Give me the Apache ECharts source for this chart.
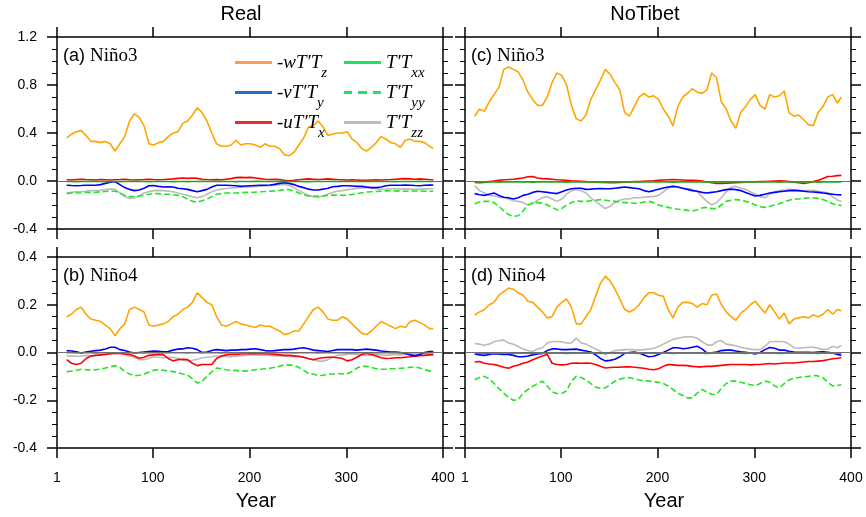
<!DOCTYPE html>
<html>
<head>
<meta charset="utf-8">
<script src="https://cdn.jsdelivr.net/npm/echarts@6.0.0/dist/echarts.min.js"></script>
<style>
  html, body { margin: 0; padding: 0; background: #fff; }
  #chart { width: 866px; height: 517px; }
</style>
</head>
<body>
<div id="chart"></div>
<script>
// centre years of the running means
const years = [
  11, 16, 21, 26, 31, 36, 41, 46, 51, 56,
  61, 66, 71, 76, 81, 86, 91, 96, 101, 106,
  111, 116, 121, 126, 131, 136, 141, 146, 151, 156,
  161, 166, 171, 176, 181, 186, 191, 196, 201, 206,
  211, 216, 221, 226, 231, 236, 241, 246, 251, 256,
  261, 266, 271, 276, 281, 286, 291, 296, 301, 306,
  311, 316, 321, 326, 331, 336, 341, 346, 351, 356,
  361, 366, 371, 376, 381, 386, 390,
]
const xTicks = [1, 100, 200, 300, 400]

// (a) Real, Nino3
const n3RealW = [
  0.36, 0.39, 0.41, 0.42, 0.38, 0.33, 0.33, 0.32, 0.33, 0.31,
  0.25, 0.31, 0.37, 0.50, 0.56, 0.53, 0.46, 0.31, 0.30, 0.32,
  0.33, 0.37, 0.40, 0.41, 0.48, 0.50, 0.55, 0.61, 0.57, 0.50,
  0.40, 0.31, 0.29, 0.29, 0.30, 0.34, 0.30, 0.31, 0.31, 0.30,
  0.28, 0.31, 0.29, 0.29, 0.27, 0.22, 0.21, 0.24, 0.30, 0.36,
  0.45, 0.46, 0.50, 0.45, 0.38, 0.39, 0.40, 0.40, 0.41, 0.35,
  0.32, 0.27, 0.25, 0.28, 0.32, 0.37, 0.35, 0.32, 0.31, 0.28,
  0.34, 0.35, 0.33, 0.33, 0.32, 0.29, 0.27,
]
const n3RealV = [
  -0.035, -0.038, -0.040, -0.038, -0.035, -0.036, -0.035, -0.030, -0.020, -0.010,
  -0.006, -0.030, -0.055, -0.070, -0.080, -0.075, -0.060, -0.040, -0.038, -0.045,
  -0.050, -0.048, -0.050, -0.060, -0.065, -0.070, -0.080, -0.090, -0.080, -0.070,
  -0.050, -0.035, -0.035, -0.036, -0.038, -0.040, -0.045, -0.042, -0.040, -0.038,
  -0.036, -0.035, -0.033, -0.028, -0.020, -0.015, -0.020, -0.030, -0.045, -0.055,
  -0.068, -0.075, -0.075, -0.068, -0.060, -0.048, -0.045, -0.040, -0.040, -0.042,
  -0.045, -0.045, -0.050, -0.055, -0.055, -0.050, -0.040, -0.036, -0.035, -0.035,
  -0.033, -0.035, -0.038, -0.040, -0.036, -0.034, -0.033,
]
const n3RealU = [
  0.010, 0.008, 0.012, 0.015, 0.012, 0.010, 0.008, 0.012, 0.010, 0.008,
  0.010, 0.012, 0.015, 0.010, 0.008, 0.010, 0.012, 0.015, 0.012, 0.010,
  0.012, 0.015, 0.018, 0.022, 0.025, 0.022, 0.025, 0.022, 0.015, 0.012,
  0.010, 0.012, 0.010, 0.015, 0.020, 0.028, 0.030, 0.028, 0.030, 0.025,
  0.020, 0.015, 0.012, 0.015, 0.012, 0.005, 0.002, 0.005, 0.010, 0.015,
  0.018, 0.015, 0.012, 0.015, 0.018, 0.015, 0.012, 0.010, 0.008, 0.010,
  0.008, 0.005, 0.005, 0.008, 0.010, 0.008, 0.010, 0.012, 0.015, 0.018,
  0.020, 0.018, 0.015, 0.018, 0.015, 0.012, 0.010,
]
const n3RealXX = [
  -0.004, -0.004, -0.005, -0.004, -0.004, -0.003, -0.004, -0.004, -0.005, -0.004,
  -0.004, -0.005, -0.004, -0.004, -0.003, -0.004, -0.004, -0.005, -0.004, -0.004,
  -0.004, -0.004, -0.005, -0.004, -0.004, -0.005, -0.004, -0.004, -0.003, -0.004,
  -0.004, -0.003, -0.004, -0.004, -0.004, -0.005, -0.004, -0.004, -0.004, -0.003,
  -0.003, -0.004, -0.004, -0.004, -0.003, -0.003, -0.004, -0.004, -0.004, -0.005,
  -0.005, -0.004, -0.004, -0.004, -0.004, -0.003, -0.004, -0.004, -0.004, -0.004,
  -0.004, -0.004, -0.003, -0.004, -0.004, -0.004, -0.004, -0.004, -0.005, -0.004,
  -0.004, -0.004, -0.004, -0.003, -0.004, -0.004, -0.004,
]
const n3RealYY = [
  -0.105, -0.100, -0.100, -0.098, -0.095, -0.097, -0.095, -0.090, -0.088, -0.085,
  -0.085, -0.100, -0.120, -0.130, -0.128, -0.125, -0.120, -0.110, -0.105, -0.105,
  -0.110, -0.110, -0.115, -0.120, -0.130, -0.150, -0.170, -0.175, -0.165, -0.150,
  -0.130, -0.110, -0.105, -0.100, -0.100, -0.100, -0.098, -0.095, -0.095, -0.093,
  -0.090, -0.088, -0.085, -0.082, -0.078, -0.072, -0.072, -0.085, -0.100, -0.115,
  -0.125, -0.127, -0.125, -0.125, -0.120, -0.118, -0.118, -0.120, -0.115, -0.112,
  -0.105, -0.098, -0.092, -0.090, -0.088, -0.085, -0.082, -0.080, -0.082, -0.085,
  -0.085, -0.085, -0.083, -0.082, -0.085, -0.086, -0.085,
]
const n3RealZZ = [
  -0.100, -0.095, -0.090, -0.088, -0.085, -0.080, -0.080, -0.078, -0.072, -0.068,
  -0.070, -0.100, -0.130, -0.145, -0.140, -0.125, -0.100, -0.090, -0.080, -0.078,
  -0.080, -0.085, -0.090, -0.100, -0.110, -0.120, -0.130, -0.140, -0.130, -0.110,
  -0.090, -0.075, -0.068, -0.062, -0.058, -0.055, -0.050, -0.050, -0.048, -0.046,
  -0.045, -0.042, -0.040, -0.035, -0.030, -0.028, -0.035, -0.055, -0.080, -0.100,
  -0.120, -0.130, -0.135, -0.125, -0.110, -0.095, -0.085, -0.080, -0.072, -0.068,
  -0.062, -0.058, -0.055, -0.060, -0.065, -0.070, -0.068, -0.065, -0.065, -0.068,
  -0.066, -0.068, -0.070, -0.068, -0.066, -0.065, -0.064,
]

// (c) NoTibet, Nino3
const n3NoTibW = [
  0.54, 0.60, 0.58, 0.66, 0.72, 0.78, 0.93, 0.95, 0.93, 0.91,
  0.84, 0.74, 0.68, 0.63, 0.63, 0.70, 0.82, 0.90, 0.88, 0.80,
  0.63, 0.52, 0.50, 0.55, 0.68, 0.76, 0.84, 0.93, 0.89, 0.82,
  0.76, 0.57, 0.54, 0.62, 0.70, 0.73, 0.70, 0.71, 0.68, 0.60,
  0.54, 0.46, 0.62, 0.70, 0.73, 0.77, 0.74, 0.73, 0.76, 0.90,
  0.86, 0.66, 0.60, 0.50, 0.44, 0.57, 0.62, 0.68, 0.72, 0.63,
  0.60, 0.72, 0.70, 0.71, 0.75, 0.57, 0.54, 0.55, 0.51, 0.47,
  0.46, 0.57, 0.62, 0.70, 0.72, 0.65, 0.70,
]
const n3NoTibV = [
  -0.105, -0.115, -0.120, -0.110, -0.100, -0.120, -0.135, -0.140, -0.150, -0.140,
  -0.120, -0.110, -0.095, -0.085, -0.090, -0.095, -0.100, -0.105, -0.090, -0.075,
  -0.065, -0.060, -0.060, -0.070, -0.068, -0.065, -0.062, -0.065, -0.065, -0.060,
  -0.055, -0.050, -0.055, -0.060, -0.065, -0.080, -0.090, -0.080, -0.068, -0.058,
  -0.050, -0.045, -0.050, -0.060, -0.070, -0.080, -0.085, -0.095, -0.100, -0.095,
  -0.090, -0.080, -0.072, -0.068, -0.072, -0.080, -0.095, -0.110, -0.125, -0.120,
  -0.110, -0.100, -0.095, -0.090, -0.085, -0.080, -0.078, -0.080, -0.085, -0.090,
  -0.092, -0.095, -0.100, -0.105, -0.110, -0.115, -0.116,
]
const n3NoTibU = [
  -0.012, -0.015, -0.012, -0.005, 0.000, 0.005, 0.010, 0.012, 0.015, 0.020,
  0.025, 0.035, 0.038, 0.025, 0.020, 0.018, 0.015, 0.010, 0.008, 0.005,
  0.002, 0.000, -0.002, -0.005, -0.008, -0.010, -0.012, -0.012, -0.015, -0.015,
  -0.012, -0.010, -0.008, -0.005, -0.004, -0.002, 0.000, 0.002, 0.005, 0.008,
  0.010, 0.012, 0.010, 0.008, 0.006, 0.005, 0.004, 0.000, -0.008, -0.015,
  -0.020, -0.020, -0.018, -0.016, -0.015, -0.012, -0.010, -0.008, -0.006, -0.005,
  -0.004, -0.002, 0.000, 0.002, 0.000, -0.005, -0.010, -0.015, -0.020, -0.015,
  -0.005, 0.005, 0.020, 0.038, 0.040, 0.045, 0.047,
]
const n3NoTibXX = [
  -0.008, -0.008, -0.007, -0.008, -0.008, -0.009, -0.008, -0.008, -0.007, -0.008,
  -0.008, -0.008, -0.009, -0.008, -0.008, -0.007, -0.008, -0.008, -0.008, -0.009,
  -0.008, -0.008, -0.007, -0.008, -0.008, -0.008, -0.009, -0.008, -0.008, -0.008,
  -0.007, -0.008, -0.008, -0.008, -0.009, -0.008, -0.008, -0.007, -0.008, -0.008,
  -0.008, -0.009, -0.008, -0.008, -0.008, -0.007, -0.008, -0.008, -0.009, -0.008,
  -0.008, -0.008, -0.007, -0.008, -0.008, -0.008, -0.009, -0.008, -0.008, -0.008,
  -0.007, -0.008, -0.008, -0.009, -0.008, -0.008, -0.008, -0.007, -0.008, -0.008,
  -0.008, -0.009, -0.008, -0.008, -0.007, -0.008, -0.008,
]
const n3NoTibYY = [
  -0.190, -0.175, -0.170, -0.170, -0.180, -0.210, -0.250, -0.280, -0.295, -0.290,
  -0.250, -0.200, -0.180, -0.180, -0.185, -0.200, -0.220, -0.240, -0.230, -0.200,
  -0.180, -0.165, -0.170, -0.170, -0.165, -0.160, -0.155, -0.160, -0.165, -0.170,
  -0.175, -0.180, -0.180, -0.185, -0.185, -0.175, -0.170, -0.180, -0.200, -0.210,
  -0.220, -0.230, -0.235, -0.240, -0.245, -0.250, -0.240, -0.225, -0.220, -0.230,
  -0.230, -0.200, -0.170, -0.160, -0.155, -0.160, -0.170, -0.180, -0.200, -0.215,
  -0.220, -0.210, -0.200, -0.190, -0.175, -0.160, -0.150, -0.150, -0.145, -0.140,
  -0.140, -0.145, -0.155, -0.170, -0.190, -0.200, -0.205,
]
const n3NoTibZZ = [
  -0.040, -0.080, -0.100, -0.120, -0.125, -0.135, -0.140, -0.150, -0.165, -0.170,
  -0.180, -0.200, -0.190, -0.160, -0.140, -0.130, -0.150, -0.170, -0.150, -0.110,
  -0.080, -0.070, -0.080, -0.100, -0.140, -0.170, -0.200, -0.230, -0.210, -0.180,
  -0.160, -0.150, -0.150, -0.140, -0.140, -0.135, -0.130, -0.130, -0.120, -0.090,
  -0.060, -0.045, -0.050, -0.060, -0.065, -0.070, -0.090, -0.130, -0.170, -0.200,
  -0.180, -0.140, -0.090, -0.050, -0.045, -0.060, -0.070, -0.090, -0.110, -0.130,
  -0.140, -0.110, -0.090, -0.080, -0.075, -0.070, -0.075, -0.080, -0.080, -0.078,
  -0.078, -0.085, -0.090, -0.100, -0.130, -0.160, -0.170,
]

// (b) Real, Nino4
const n4RealW = [
  0.150, 0.160, 0.180, 0.190, 0.160, 0.140, 0.135, 0.130, 0.115, 0.100,
  0.070, 0.100, 0.120, 0.180, 0.190, 0.180, 0.170, 0.115, 0.110, 0.115,
  0.120, 0.130, 0.150, 0.160, 0.180, 0.190, 0.210, 0.250, 0.230, 0.210,
  0.200, 0.150, 0.115, 0.110, 0.120, 0.130, 0.120, 0.115, 0.110, 0.105,
  0.115, 0.110, 0.110, 0.100, 0.090, 0.075, 0.080, 0.090, 0.090, 0.120,
  0.150, 0.180, 0.190, 0.170, 0.140, 0.135, 0.135, 0.150, 0.140, 0.120,
  0.100, 0.080, 0.075, 0.090, 0.110, 0.130, 0.120, 0.110, 0.100, 0.110,
  0.105, 0.130, 0.135, 0.125, 0.115, 0.100, 0.100,
]
const n4RealV = [
  0.008, 0.006, 0.003, -0.002, 0.002, 0.005, 0.008, 0.010, 0.015, 0.022,
  0.022, 0.012, 0.008, 0.002, -0.002, 0.000, 0.002, 0.004, 0.006, 0.005,
  0.003, 0.004, 0.010, 0.014, 0.015, 0.020, 0.018, 0.012, 0.000, 0.002,
  0.008, 0.012, 0.010, 0.008, 0.010, 0.010, 0.012, 0.012, 0.014, 0.016,
  0.012, 0.008, 0.006, 0.008, 0.010, 0.012, 0.012, 0.014, 0.018, 0.020,
  0.016, 0.010, 0.008, 0.006, 0.004, 0.008, 0.012, 0.012, 0.012, 0.012,
  0.010, 0.012, 0.014, 0.012, 0.010, 0.006, 0.004, 0.002, 0.002, 0.000,
  -0.004, -0.010, -0.014, -0.008, 0.000, 0.004, 0.004,
]
const n4RealU = [
  -0.030, -0.045, -0.050, -0.045, -0.025, -0.015, -0.012, -0.010, -0.008, -0.005,
  -0.003, -0.004, -0.006, -0.008, -0.015, -0.024, -0.020, -0.012, -0.010, -0.008,
  -0.010, -0.025, -0.035, -0.030, -0.028, -0.030, -0.045, -0.055, -0.050, -0.050,
  -0.050, -0.025, -0.015, -0.010, -0.008, -0.008, -0.006, -0.005, -0.005, -0.005,
  -0.004, -0.005, -0.006, -0.008, -0.010, -0.012, -0.012, -0.014, -0.016, -0.020,
  -0.026, -0.030, -0.025, -0.022, -0.020, -0.020, -0.022, -0.025, -0.035, -0.030,
  -0.020, -0.008, -0.003, -0.008, -0.015, -0.022, -0.025, -0.024, -0.022, -0.022,
  -0.020, -0.018, -0.015, -0.013, -0.012, -0.010, -0.010,
]
const n4RealXX = [
  -0.001, -0.001, -0.002, -0.001, -0.001, -0.001, -0.002, -0.001, -0.001, -0.001,
  -0.001, -0.002, -0.001, -0.001, -0.001, -0.001, -0.002, -0.001, -0.001, -0.001,
  -0.002, -0.001, -0.001, -0.001, -0.001, -0.002, -0.001, -0.001, -0.001, -0.001,
  -0.001, -0.001, -0.002, -0.001, -0.001, -0.001, -0.001, -0.002, -0.001, -0.001,
  -0.001, -0.002, -0.001, -0.001, -0.001, -0.001, -0.001, -0.002, -0.001, -0.001,
  -0.001, -0.001, -0.002, -0.001, -0.001, -0.001, -0.001, -0.001, -0.002, -0.001,
  -0.001, -0.001, -0.001, -0.002, -0.001, -0.001, -0.001, -0.001, -0.001, -0.002,
  -0.001, -0.001, -0.001, -0.001, -0.002, -0.001, -0.001,
]
const n4RealYY = [
  -0.080, -0.078, -0.075, -0.070, -0.072, -0.074, -0.072, -0.070, -0.065, -0.060,
  -0.055, -0.062, -0.080, -0.090, -0.097, -0.095, -0.090, -0.082, -0.074, -0.072,
  -0.074, -0.078, -0.080, -0.085, -0.090, -0.095, -0.110, -0.128, -0.120, -0.100,
  -0.080, -0.065, -0.068, -0.072, -0.075, -0.075, -0.078, -0.078, -0.075, -0.072,
  -0.070, -0.068, -0.066, -0.062, -0.058, -0.052, -0.052, -0.055, -0.062, -0.075,
  -0.088, -0.090, -0.097, -0.095, -0.090, -0.090, -0.088, -0.090, -0.089, -0.080,
  -0.065, -0.058, -0.058, -0.062, -0.068, -0.070, -0.070, -0.068, -0.068, -0.066,
  -0.065, -0.062, -0.060, -0.065, -0.072, -0.078, -0.075,
]
const n4RealZZ = [
  -0.014, -0.015, -0.016, -0.015, -0.012, -0.014, -0.012, -0.010, -0.008, -0.006,
  -0.004, -0.003, -0.008, -0.015, -0.020, -0.030, -0.030, -0.025, -0.018, -0.020,
  -0.022, -0.020, -0.020, -0.025, -0.032, -0.037, -0.033, -0.028, -0.022, -0.020,
  -0.018, -0.015, -0.016, -0.018, -0.018, -0.016, -0.014, -0.012, -0.010, -0.010,
  -0.012, -0.010, -0.012, -0.014, -0.014, -0.016, -0.018, -0.018, -0.018, -0.020,
  -0.025, -0.030, -0.035, -0.037, -0.030, -0.020, -0.012, -0.010, -0.008, -0.006,
  -0.008, -0.010, -0.012, -0.010, -0.008, -0.010, -0.012, -0.010, -0.008, -0.010,
  -0.008, -0.006, -0.010, -0.008, -0.006, -0.006, -0.006,
]

// (d) NoTibet, Nino4
const n4NoTibW = [
  0.157, 0.170, 0.180, 0.200, 0.210, 0.240, 0.255, 0.270, 0.265, 0.250,
  0.240, 0.215, 0.210, 0.190, 0.170, 0.145, 0.150, 0.190, 0.210, 0.225,
  0.190, 0.120, 0.120, 0.150, 0.180, 0.235, 0.290, 0.320, 0.300, 0.265,
  0.225, 0.180, 0.170, 0.180, 0.200, 0.230, 0.250, 0.250, 0.240, 0.235,
  0.180, 0.145, 0.190, 0.210, 0.210, 0.205, 0.190, 0.205, 0.200, 0.240,
  0.245, 0.200, 0.170, 0.150, 0.135, 0.165, 0.180, 0.200, 0.215, 0.190,
  0.165, 0.200, 0.170, 0.140, 0.165, 0.120, 0.140, 0.145, 0.150, 0.145,
  0.157, 0.150, 0.160, 0.180, 0.160, 0.180, 0.175,
]
const n4NoTibV = [
  -0.006, -0.010, -0.012, -0.008, -0.005, -0.007, -0.008, -0.008, -0.012, -0.018,
  -0.018, -0.015, -0.010, -0.006, -0.004, 0.008, 0.015, 0.015, 0.012, 0.012,
  0.013, 0.014, 0.010, 0.006, 0.002, -0.010, -0.025, -0.035, -0.033, -0.028,
  -0.018, -0.004, 0.000, 0.002, -0.002, -0.010, -0.018, -0.016, -0.008, 0.000,
  0.010, 0.020, 0.020, 0.016, 0.018, 0.022, 0.026, 0.015, -0.002, -0.001,
  0.002, 0.008, 0.010, 0.010, 0.006, 0.003, 0.001, -0.002, -0.006, 0.000,
  0.012, 0.021, 0.018, 0.010, 0.010, 0.005, 0.002, 0.001, 0.001, 0.001,
  0.000, 0.002, 0.003, 0.001, -0.002, -0.008, -0.012,
]
const n4NoTibU = [
  -0.040, -0.038, -0.045, -0.048, -0.050, -0.055, -0.062, -0.066, -0.058, -0.052,
  -0.045, -0.040, -0.030, -0.022, -0.015, -0.008, -0.045, -0.050, -0.052, -0.050,
  -0.045, -0.044, -0.045, -0.044, -0.045, -0.050, -0.058, -0.065, -0.063, -0.062,
  -0.062, -0.060, -0.060, -0.062, -0.064, -0.066, -0.070, -0.072, -0.068, -0.058,
  -0.050, -0.052, -0.054, -0.054, -0.055, -0.058, -0.060, -0.060, -0.058, -0.058,
  -0.056, -0.054, -0.052, -0.050, -0.050, -0.050, -0.050, -0.052, -0.050, -0.050,
  -0.048, -0.046, -0.048, -0.046, -0.044, -0.044, -0.044, -0.042, -0.040, -0.038,
  -0.038, -0.036, -0.034, -0.030, -0.026, -0.024, -0.022,
]
const n4NoTibXX = [
  -0.003, -0.003, -0.002, -0.003, -0.003, -0.004, -0.003, -0.003, -0.002, -0.003,
  -0.003, -0.003, -0.004, -0.003, -0.003, -0.002, -0.003, -0.003, -0.003, -0.004,
  -0.003, -0.003, -0.002, -0.003, -0.003, -0.003, -0.004, -0.003, -0.003, -0.003,
  -0.002, -0.003, -0.003, -0.003, -0.004, -0.003, -0.003, -0.002, -0.003, -0.003,
  -0.003, -0.004, -0.003, -0.003, -0.003, -0.002, -0.003, -0.003, -0.004, -0.003,
  -0.003, -0.003, -0.002, -0.003, -0.003, -0.003, -0.004, -0.003, -0.003, -0.003,
  -0.002, -0.003, -0.003, -0.004, -0.003, -0.003, -0.003, -0.002, -0.003, -0.003,
  -0.003, -0.004, -0.003, -0.003, -0.002, -0.003, -0.003,
]
const n4NoTibYY = [
  -0.114, -0.105, -0.100, -0.110, -0.130, -0.150, -0.170, -0.188, -0.200, -0.198,
  -0.170, -0.155, -0.142, -0.130, -0.120, -0.140, -0.165, -0.172, -0.172, -0.160,
  -0.120, -0.100, -0.105, -0.115, -0.130, -0.145, -0.150, -0.148, -0.135, -0.120,
  -0.112, -0.107, -0.105, -0.110, -0.115, -0.118, -0.120, -0.122, -0.125, -0.130,
  -0.140, -0.155, -0.170, -0.180, -0.190, -0.190, -0.170, -0.155, -0.165, -0.175,
  -0.176, -0.150, -0.130, -0.120, -0.120, -0.125, -0.130, -0.135, -0.140, -0.130,
  -0.120, -0.125, -0.140, -0.148, -0.130, -0.115, -0.108, -0.105, -0.102, -0.100,
  -0.096, -0.098, -0.105, -0.125, -0.140, -0.138, -0.135,
]
const n4NoTibZZ = [
  0.038, 0.035, 0.030, 0.035, 0.045, 0.050, 0.052, 0.040, 0.035, 0.025,
  0.015, 0.008, 0.004, 0.015, 0.020, 0.040, 0.046, 0.046, 0.045, 0.040,
  0.040, 0.060, 0.040, 0.035, 0.025, 0.015, 0.005, -0.008, 0.000, 0.008,
  0.010, 0.012, 0.012, 0.012, 0.010, 0.012, 0.015, 0.018, 0.025, 0.035,
  0.045, 0.055, 0.060, 0.064, 0.066, 0.066, 0.060, 0.045, 0.033, 0.030,
  0.045, 0.050, 0.035, 0.032, 0.028, 0.022, 0.018, 0.014, 0.012, 0.012,
  0.025, 0.045, 0.046, 0.046, 0.045, 0.035, 0.020, 0.018, 0.020, 0.022,
  0.022, 0.018, 0.012, 0.015, 0.025, 0.020, 0.030,
]

const lineColor = { w: '#ffa500', v: '#0000ff', u: '#ff0000', xx: '#1fae1f', yy: '#22e622', zz: '#bbbbbb' }
const legendColor = { w: '#f6a04a', v: '#2a6fbf', u: '#f2282d', xx: '#22e060', yy: '#22e060', zz: '#bdbdbd' }
const seriesName = { w: '-wT′Tz', v: '-vT′Ty', u: '-uT′Tx', xx: 'T′Txx', yy: 'T′Tyy', zz: 'T′Tzz' }
const richName = {
  '-wT′Tz': ['-wT′T', 'z'], '-vT′Ty': ['-vT′T', 'y'], '-uT′Tx': ['-uT′T', 'x'],
  'T′Txx': ['T′T', 'xx'], 'T′Tyy': ['T′T', 'yy'], 'T′Tzz': ['T′T', 'zz'],
}
// legend samples: a plain bar, or three dashes for T'Tyy
const solidIcon = 'path://M0,0h37v3h-37z'
const dashIcon = 'path://M0,0h8v3h-8z M14,0h9v3h-9z M29,0h8v3h-8z'

const panels = [
  { tag: '(a) ', region: 'Niño3', grid: { left: 57, top: 37, width: 386, height: 192 },
    y: [-0.4, 1.2, 0.4], yLabels: true, xLabels: false,
    lines: { zz: n3RealZZ, yy: n3RealYY, u: n3RealU, v: n3RealV, w: n3RealW, xx: n3RealXX } },
  { tag: '(c) ', region: 'Niño3', grid: { left: 465, top: 37, width: 386, height: 192 },
    y: [-0.4, 1.2, 0.4], yLabels: false, xLabels: false,
    lines: { zz: n3NoTibZZ, yy: n3NoTibYY, u: n3NoTibU, v: n3NoTibV, w: n3NoTibW, xx: n3NoTibXX } },
  { tag: '(b) ', region: 'Niño4', grid: { left: 57, top: 257, width: 386, height: 191 },
    y: [-0.4, 0.4, 0.2], yLabels: true, xLabels: true,
    lines: { zz: n4RealZZ, yy: n4RealYY, u: n4RealU, v: n4RealV, w: n4RealW, xx: n4RealXX } },
  { tag: '(d) ', region: 'Niño4', grid: { left: 465, top: 257, width: 386, height: 191 },
    y: [-0.4, 0.4, 0.2], yLabels: false, xLabels: true,
    lines: { zz: n4NoTibZZ, yy: n4NoTibYY, u: n4NoTibU, v: n4NoTibV, w: n4NoTibW, xx: n4NoTibXX } },
]

const sans = '"Liberation Sans", Arial, sans-serif'
const serif = '"Liberation Serif", "Times New Roman", serif'
const frame = { color: '#000', width: 1.5 }

const xAxes = []
const yAxes = []
const series = []

panels.forEach((p, i) => {
  const xBase = {
    type: 'value', gridIndex: i, min: 1, max: 400,
    axisLine: { show: true, onZero: false, lineStyle: frame },
    axisTick: { show: true, inside: false, length: 10, lineStyle: frame, customValues: xTicks },
    splitLine: { show: false },
  }
  xAxes.push({
    ...xBase, position: 'bottom',
    axisLabel: {
      show: p.xLabels, customValues: xTicks, color: '#000', fontFamily: sans, fontSize: 14, margin: 23,
    },
  })
  xAxes.push({ ...xBase, position: 'top', axisLabel: { show: false } })

  const yBase = {
    type: 'value', gridIndex: i, min: p.y[0], max: p.y[1], interval: p.y[2],
    axisLine: { show: true, onZero: false, lineStyle: frame },
    axisTick: { show: true, inside: false, length: 10, lineStyle: frame },
    minorTick: { show: true, splitNumber: 4, length: 5, lineStyle: { color: '#000', width: 1 } },
    splitLine: { show: false },
    minorSplitLine: { show: false },
  }
  yAxes.push({
    ...yBase, position: 'left',
    axisLabel: {
      show: p.yLabels, color: '#000', fontFamily: sans, fontSize: 14, margin: 20,
      formatter: (v) => (Math.abs(v) < 1e-9 ? 0 : v).toFixed(1),
    },
  })
  yAxes.push({ ...yBase, position: 'right', axisLabel: { show: false } })

  Object.keys(p.lines).forEach((key, k) => {
    const vals = p.lines[key]
    const s = {
      type: 'line',
      name: seriesName[key],
      xAxisIndex: 2 * i,
      yAxisIndex: 2 * i,
      data: years.map((yr, j) => [yr, vals[j]]),
      symbol: 'none',
      silent: true,
      lineStyle: { color: lineColor[key], width: 1.6, type: key === 'yy' ? [6, 3] : 'solid' },
      itemStyle: { color: lineColor[key] },
    }
    if (k === 0) {
      s.markLine = {
        silent: true, symbol: 'none', label: { show: false },
        lineStyle: { color: '#6e6e6e', width: 1.2, type: 'solid' },
        data: [{ yAxis: 0 }],
      }
    }
    series.push(s)
  })
})

// subscript pushed down with top padding (text sits at box centre + pad/2)
const legendRich = {
  m: { fontFamily: serif, fontStyle: 'italic', fontSize: 19, color: '#000', lineHeight: 28 },
  s: { fontFamily: serif, fontStyle: 'italic', fontSize: 15, color: '#000', lineHeight: 12, padding: [22, 0, 0, 0] },
}
const legendItem = (key) => ({
  name: seriesName[key],
  icon: key === 'yy' ? dashIcon : solidIcon,
  itemStyle: { color: legendColor[key] },
})
const legendBase = {
  orient: 'vertical', top: 39, itemWidth: 37, itemHeight: 3, itemGap: -7,
  selectedMode: false,
  formatter: (name) => `{m|${richName[name][0]}}{s|${richName[name][1]}}`,
  textStyle: { rich: legendRich },
}

const graphic = [
  { type: 'text', x: 241, y: 14, style: { text: 'Real', font: `20px ${sans}`, fill: '#000', align: 'center', verticalAlign: 'middle' } },
  { type: 'text', x: 645, y: 14, style: { text: 'NoTibet', font: `20px ${sans}`, fill: '#000', align: 'center', verticalAlign: 'middle' } },
  { type: 'text', x: 256, y: 501, style: { text: 'Year', font: `20px ${sans}`, fill: '#000', align: 'center', verticalAlign: 'middle' } },
  { type: 'text', x: 664, y: 501, style: { text: 'Year', font: `20px ${sans}`, fill: '#000', align: 'center', verticalAlign: 'middle' } },
]
panels.forEach((p) => {
  graphic.push({
    type: 'text',
    x: p.grid.left + 6,
    y: p.grid.top + 19,
    style: {
      text: `{a|${p.tag}}{b|${p.region}}`,
      verticalAlign: 'middle',
      rich: {
        a: { fontFamily: sans, fontSize: 18, fill: '#000' },
        b: { fontFamily: serif, fontSize: 19, fill: '#000' },
      },
    },
  })
})

const chart = echarts.init(document.getElementById('chart'), null, { renderer: 'canvas' })
chart.setOption({
  animation: false,
  backgroundColor: '#fff',
  grid: panels.map((p) => ({ ...p.grid, containLabel: false })),
  xAxis: xAxes,
  yAxis: yAxes,
  legend: [
    { ...legendBase, left: 230, data: ['w', 'v', 'u'].map(legendItem) },
    { ...legendBase, left: 339, data: ['xx', 'yy', 'zz'].map(legendItem) },
  ],
  series,
  graphic,
})
</script>
</body>
</html>
